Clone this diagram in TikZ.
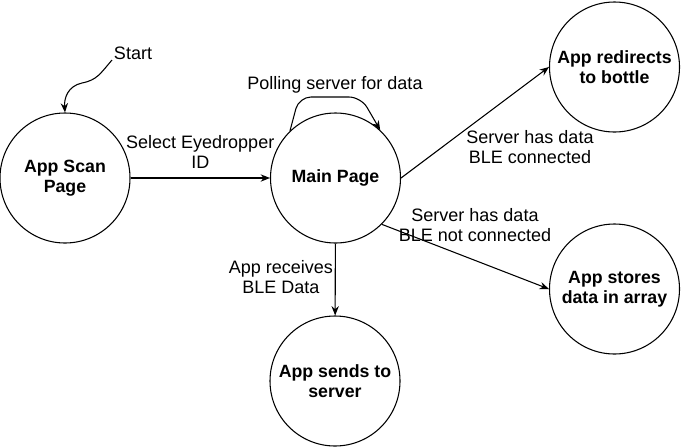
\documentclass[tikz,border=0pt]{standalone}
\usepackage{fontspec}
\setmainfont{Liberation Sans}
\usetikzlibrary{arrows.meta,positioning}

\begin{document}
\begin{tikzpicture}[
  x=0.75pt,y=-0.75pt,
  state/.style={draw,circle,line width=0.8pt,minimum size=97.5pt,inner sep=0pt,
                align=center,font=\fontsize{13.3}{15.3}\selectfont\bfseries},
  lbl/.style={align=center,inner sep=0pt,font=\fontsize{13.5}{15}\selectfont},
  arr/.style={-{Stealth[length=7pt,width=5.5pt]},line width=0.8pt}
]
\useasboundingbox (0,0) rectangle (681,447);
\node[state] (scan) at (65,178) {App Scan\\Page};
\node[state] (main) at (335.5,178) {Main Page};
\node[state] (bottle) at (614.5,67) {App redirects\\to bottle};
\node[state] (array) at (614.5,289) {App stores\\data in array};
\node[state] (send) at (335,381) {App sends to\\server};
% start marker
\node[lbl] (startlbl) at (133,53) {Start};
\coordinate (startpt) at (112,60);
\draw[arr] (startpt) .. controls (100,74) and (97,80) .. (82,83)
  .. controls (68,86) and (64,98) .. (scan.north);
% transitions
\draw[arr] (scan) -- (main) node[lbl,midway,above=7pt] {Select Eyedropper\\ID};
\draw[arr,rounded corners=9pt] (main.134) -- (299,97) -- (361,97) -- (main.47);
\node[lbl] (polllbl) at (335,85) {Polling server for data};
\draw[arr] (main.east) -- (bottle.west);
\node[lbl] (conlbl) at (530,147) {Server has data\\BLE connected};
\draw[arr] (main.-45) -- (array.west);
\node[lbl] (notconlbl) at (475,225) {Server has data\\BLE not connected};
\draw[arr] (main) -- (send);
\node[lbl] (blelbl) at (281,277) {App receives\\BLE Data};
\end{tikzpicture}
\end{document}
